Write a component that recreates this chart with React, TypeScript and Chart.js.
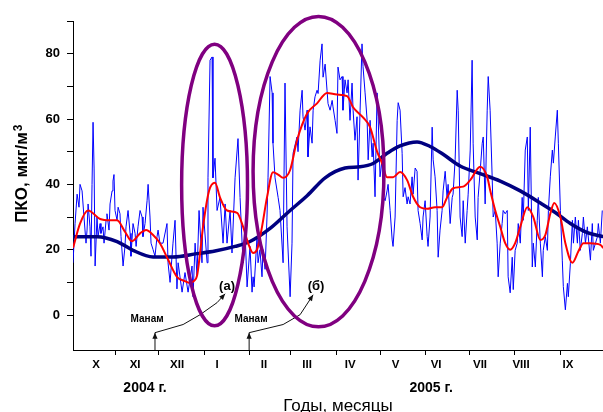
import React, { useEffect, useRef } from "react";
import { Chart, registerables } from "chart.js";

Chart.register(...registerables);

const FONT = '"Liberation Sans", Arial, Helvetica, sans-serif';

// Days are counted from 1 October 2004.
const monthStartDays = [31, 61, 92, 123, 151, 182, 212, 243, 273, 304, 335];
const monthNames = ["X", "XI", "XII", "I", "II", "III", "IV", "V", "VI", "VII", "VIII", "IX"];
const monthNameDays = [18, 44.7, 73.4, 100.7, 132.8, 162.2, 191.6, 222.7, 250.3, 280.3, 308.3, 340.4];
const yearNames = ["2004 г.", "2005 г."];
const yearNameDays = [51.5, 246.9];
const valueTicks = [0, 10, 20, 30, 40, 50, 60, 70, 80, 90];

const xTitle = "Годы, месяцы";
const yTitle = "ПКО, мкг/м";
const yTitleUnitPower = "3";

// Daily aerosol concentration, [day, µg/m³]
const pkoDaily: [number, number][] = [
  [2.3, 16], [3.7, 28], [5.1, 37], [6.4, 33], [7.1, 40], [8.5, 38], [9.8, 30], [11.2, 22], [11.9, 26], [12.6, 34],
  [13.9, 27], [14.6, 18], [15.3, 40], [16.0, 59], [16.7, 45], [17.4, 15], [18.7, 30], [19.4, 24], [20.8, 28], [21.4, 25],
  [22.8, 27], [23.5, 22], [24.9, 29], [25.5, 31], [26.9, 26], [27.6, 34], [29.0, 38], [29.6, 41], [30.3, 43], [31.0, 32],
  [32.4, 29], [33.1, 33], [34.4, 31], [35.1, 24], [36.5, 15], [37.8, 21], [38.5, 27], [39.9, 32], [41.3, 25], [41.9, 18],
  [43.3, 28], [44.7, 25], [45.4, 21], [46.7, 27], [48.1, 32], [49.5, 30], [50.1, 24], [51.5, 28], [52.9, 35], [53.6, 40],
  [54.9, 30], [55.6, 22], [57.0, 20], [58.3, 18], [59.7, 24], [60.4, 26], [61.7, 22],
  [63.8, 22], [66.5, 28], [67.2, 16], [68.6, 10], [70.6, 22], [72.0, 29], [73.3, 8], [74.1, 16], [76.8, 7], [78.8, 13],
  [80.9, 7], [83.6, 15], [84.3, 5.6], [85.7, 22], [87.0, 12], [88.4, 32], [90.4, 16], [91.1, 33], [93.9, 16], [94.5, 42],
  [95.9, 78], [97.3, 79], [97.9, 42], [99.3, 48], [100.7, 32], [102.7, 36], [104.8, 22], [106.2, 34], [107.5, 22], [109.6, 32],
  [110.9, 19], [113.0, 42], [115.0, 54], [116.4, 36], [117.8, 22], [118.5, 16], [119.8, 26], [121.2, 8.6], [123.2, 21], [124.6, 7],
  [125.3, 11.7], [126.0, 8.6],
  [128.0, 24], [128.7, 16], [130.0, 20], [131.4, 11.7], [132.1, 20], [133.5, 14], [134.8, 30], [135.5, 42], [136.9, 73], [138.3, 68],
  [138.9, 52.6], [140.3, 42], [142.4, 36], [143.7, 32], [145.8, 16], [147.1, 71], [148.5, 27], [150.6, 5.6], [151.9, 22], [152.6, 49.5],
  [155.3, 54.5], [156.0, 50], [157.4, 62.7], [158.8, 68.8], [159.4, 60.7], [160.8, 56.6], [162.2, 62.7], [162.8, 48.4], [164.2, 57.6], [165.6, 52.6],
  [166.3, 62.7], [167.6, 66.8], [169.0, 68.8], [169.7, 67.8], [171.1, 78], [172.4, 83], [173.1, 72.8], [174.5, 76.8], [175.8, 68.8], [176.5, 64.7],
  [177.9, 62.7], [179.3, 65.7], [179.9, 63.7], [181.3, 59.6], [182.6, 55.6], [183.3, 75.9], [184.7, 72], [186.1, 73], [186.7, 62.7], [188.1, 72],
  [189.5, 68], [190.2, 72], [191.5, 59.6], [192.9, 71], [193.6, 62.7], [194.9, 53.5], [196.3, 60.7], [197.0, 41.3], [198.4, 62.7], [199.7, 83],
  [200.4, 76], [201.8, 68], [203.2, 59.6], [203.9, 47.5], [205.2, 59.6], [206.6, 48.4], [207.3, 52.6], [208.6, 36.2], [210.0, 68], [210.7, 60.7],
  [212.0, 42.3], [213.4, 47.5], [214.1, 36.2], [215.5, 35], [216.8, 38], [217.5, 40], [218.9, 32], [220.3, 23], [220.9, 21], [222.3, 30],
  [223.7, 59.6], [224.4, 65], [225.7, 62.7], [227.1, 49.5], [227.8, 36.2], [229.1, 39], [230.5, 34], [231.2, 36.2], [232.5, 34], [233.9, 42.3],
  [234.6, 37], [236.0, 45], [237.3, 44], [238.0, 32], [239.4, 28], [240.8, 23], [241.4, 30], [242.8, 35], [244.2, 24], [244.8, 21],
  [246.2, 30], [247.6, 57.5], [248.3, 47.5], [249.6, 42.3], [251.0, 32], [251.7, 17.7], [253.0, 26], [254.4, 32], [255.1, 38], [256.5, 44],
  [257.8, 36], [258.5, 40], [259.9, 28], [261.3, 36], [261.9, 37], [263.3, 47.5], [264.7, 68.8], [265.4, 62.7], [266.7, 30], [268.1, 24],
  [268.8, 35], [270.2, 22], [271.5, 32], [272.2, 37], [273.6, 50.5], [274.9, 78], [275.6, 52.6], [277.0, 30], [278.4, 23], [279.0, 36],
  [280.4, 44], [281.8, 52.6], [282.5, 54.5], [283.8, 34], [285.2, 62.7], [285.9, 73], [287.2, 62.7], [288.6, 42.3], [289.3, 30], [290.7, 32],
  [292.0, 22], [292.7, 11.7], [294.1, 22], [295.4, 28], [296.1, 32], [297.5, 31], [298.9, 32], [299.5, 11.7], [300.9, 6.8], [302.3, 17.7],
  [303.0, 7.8], [304.3, 19.8], [305.7, 22], [306.4, 28], [307.8, 22], [309.1, 36], [309.8, 29], [311.2, 50.5], [312.6, 54.5], [313.3, 32],
  [314.6, 57.5], [316.0, 14.7], [316.7, 22], [318.1, 14.7], [319.4, 29], [320.1, 36], [321.5, 22], [322.9, 11.7], [323.5, 19.8], [324.9, 24],
  [326.3, 19.8], [327.0, 32], [328.3, 42.3], [329.7, 50.5], [330.4, 46.5], [331.7, 54.5], [333.1, 62.7], [333.8, 52.6], [335.2, 32], [336.5, 16.8],
  [337.2, 8.7], [338.6, 1.6], [340.0, 9.7], [340.6, 5.6], [342.0, 15.7], [343.4, 29], [344.1, 22], [345.4, 30], [346.8, 22], [347.5, 29],
  [348.8, 19.8], [350.2, 25], [350.9, 30], [352.3, 22], [353.6, 27], [355.7, 16.8], [357.0, 28], [357.7, 19.8], [360.5, 24], [361.1, 28],
  [362.5, 22], [363.8, 32],
];

// Short-period running mean, [day, µg/m³]
const pkoMeanShort: [number, number][] = [
  [2.3, 20.5], [7.1, 28], [12.6, 32], [20.8, 29.4], [27.6, 29], [32.4, 29], [37.8, 25.5], [42.6, 22.6], [48.1, 25], [52.2, 26],
  [57.0, 24.5], [61.7, 22], [67.2, 17], [73.3, 11.7], [78.1, 10.5], [82.2, 9.8], [85.0, 10.5], [87.0, 12], [89.1, 19], [91.1, 27],
  [95.2, 38], [99.3, 40.5], [102.7, 36], [107.5, 32], [114.4, 31.3], [118.5, 27], [121.9, 22], [125.3, 19], [128.0, 20], [131.4, 27],
  [134.8, 36], [138.9, 43.7], [142.4, 43], [145.8, 42], [150.6, 44.4], [155.3, 53.5], [162.2, 61.7], [169.0, 64.8], [175.8, 68], [182.6, 67.5],
  [189.5, 67], [193.6, 63.6], [200.4, 60.5], [205.2, 57.5], [210.0, 50], [213.4, 46.5], [216.8, 42.2], [220.9, 42.2], [225.7, 43.8], [230.5, 41.3],
  [234.6, 36.2], [239.4, 33], [244.2, 32.5], [249.6, 33], [254.4, 33], [257.8, 36], [261.9, 38.8], [268.8, 39.3], [273.6, 41.3], [280.4, 45.4],
  [285.2, 42.3], [287.2, 38.3], [290.7, 32], [294.1, 27], [297.5, 22], [300.9, 20], [304.3, 22], [307.8, 27], [312.6, 33], [316.7, 30],
  [321.5, 23], [324.9, 24.5], [328.3, 31], [331.0, 34.3], [335.2, 30], [338.6, 22], [343.4, 16], [347.5, 19.5], [350.9, 22], [355.7, 22],
  [362.5, 21.5], [364.5, 20.5],
];

// Long-period running mean, [day, µg/m³]
const pkoMeanLong: [number, number][] = [
  [2.3, 24], [18.7, 24], [32.4, 22.5], [43.3, 19.8], [57.0, 17.8], [70.6, 17.8], [87.0, 18.8], [99.3, 19.6], [113.0, 21], [123.2, 22.5],
  [136.9, 26.5], [150.6, 32], [162.2, 36.5], [174.5, 42], [188.1, 45], [198.4, 45.4], [207.3, 46.4], [216.8, 49.5], [225.7, 51.8], [237.3, 53],
  [246.2, 51.6], [255.1, 49.2], [266.7, 45.6], [280.4, 43.3], [294.1, 41], [307.8, 38], [321.5, 34.3], [331.7, 31.4], [342.0, 28], [353.6, 25.2],
  [364.5, 24],
];

// Highlighted episodes (a) and (б): centre and half-extent in data units
const episodes = [
  { day: 99.0, value: 39.8, halfDays: 22.5, halfValue: 43.1 },
  { day: 170.0, value: 43.9, halfDays: 44.7, halfValue: 47.5 },
];

// Manam eruption markers and their leaders to the episode labels
const eruptions = [
  { day: 58.3, leader: [[58.3, -5.4], [77.5, -2.9], [89.1, 0.1], [100.7, 3.8], [106.2, 6.5]] },
  { day: 122.6, leader: [[122.6, -5.4], [145.8, -2.9], [157.4, 0.1], [166.3, 6.2]] },
];

const notes = [
  { text: "(а)", day: 107.5, value: 8.9, size: 13 },
  { text: "(б)", day: 168.3, value: 8.9, size: 13 },
  { text: "Манам", day: 52.9, value: -1.4, size: 10 },
  { text: "Манам", day: 123.9, value: -1.4, size: 10 },
];

const toPoints = (rows: [number, number][]) => rows.map(([x, y]) => ({ x, y }));

function arrowHead(ctx: CanvasRenderingContext2D, fx: number, fy: number, tx: number, ty: number) {
  const a = Math.atan2(ty - fy, tx - fx);
  const len = 6;
  const w = 2.6;
  ctx.beginPath();
  ctx.moveTo(tx, ty);
  ctx.lineTo(tx - len * Math.cos(a) + w * Math.sin(a), ty - len * Math.sin(a) - w * Math.cos(a));
  ctx.lineTo(tx - len * Math.cos(a) - w * Math.sin(a), ty - len * Math.sin(a) + w * Math.cos(a));
  ctx.closePath();
  ctx.fill();
}

const overlayPlugin = {
  id: "episodeOverlay",
  afterDraw(chart: any) {
    const { ctx, scales, chartArea } = chart;
    const xs = scales.x;
    const ys = scales.y;
    const px = (d: number) => xs.getPixelForValue(d);
    const py = (v: number) => ys.getPixelForValue(v);
    ctx.save();

    // eruption arrows
    ctx.strokeStyle = "#111";
    ctx.fillStyle = "#111";
    ctx.lineWidth = 1;
    for (const e of eruptions) {
      const x0 = px(e.day);
      const base = ys.bottom;
      const top = py(e.leader[0][1]);
      ctx.beginPath();
      ctx.moveTo(x0, base);
      ctx.lineTo(x0, top);
      ctx.stroke();
      arrowHead(ctx, x0, base, x0, top);
      ctx.beginPath();
      e.leader.forEach(([d, v], i) => (i ? ctx.lineTo(px(d), py(v)) : ctx.moveTo(px(d), py(v))));
      ctx.stroke();
      const n = e.leader.length;
      arrowHead(ctx, px(e.leader[n - 2][0]), py(e.leader[n - 2][1]), px(e.leader[n - 1][0]), py(e.leader[n - 1][1]));
    }

    // episode outlines
    ctx.strokeStyle = "#800080";
    ctx.lineWidth = 3.5;
    for (const el of episodes) {
      const cx = px(el.day);
      const cy = py(el.value);
      const rx = Math.abs(px(el.day + el.halfDays) - cx);
      const ry = Math.abs(py(el.value + el.halfValue) - cy);
      ctx.beginPath();
      ctx.ellipse(cx, cy, rx, ry, 0, 0, Math.PI * 2);
      ctx.stroke();
    }

    // labels
    ctx.fillStyle = "#000";
    ctx.textAlign = "center";
    ctx.textBaseline = "middle";
    for (const n of notes) {
      ctx.font = `bold ${n.size}px ${FONT}`;
      ctx.fillText(n.text, px(n.day), py(n.value));
    }

    // axis titles
    ctx.textAlign = "center";
    ctx.textBaseline = "alphabetic";
    ctx.font = `17px ${FONT}`;
    ctx.fillText(xTitle, (chartArea.left + chartArea.right) / 2, chart.height - 1);

    ctx.font = `bold 17px ${FONT}`;
    const w = ctx.measureText(yTitle).width;
    ctx.translate(ys.left + 27, (chartArea.top + chartArea.bottom) / 2 + w / 2 - 8);
    ctx.rotate(-Math.PI / 2);
    ctx.textAlign = "left";
    ctx.fillText(yTitle, 0, 0);
    ctx.font = `bold 12px ${FONT}`;
    ctx.fillText(yTitleUnitPower, w + 1, -5);

    ctx.restore();
  },
};

export default function App() {
  const canvasRef = useRef<HTMLCanvasElement>(null);

  useEffect(() => {
    document.body.style.margin = "0";
    const canvas = canvasRef.current;
    if (!canvas) return;

    const xMin = 2.3;
    const xMax = 364.3;

    const chart = new Chart(canvas, {
      type: "line",
      data: {
        datasets: [
          {
            data: toPoints(pkoMeanShort),
            borderColor: "#ff0000",
            borderWidth: 2,
            pointRadius: 0,
            cubicInterpolationMode: "monotone",
            order: 0,
          },
          {
            data: toPoints(pkoMeanLong),
            borderColor: "#000080",
            borderWidth: 3.5,
            pointRadius: 0,
            cubicInterpolationMode: "monotone",
            order: 1,
          },
          {
            data: toPoints(pkoDaily),
            borderColor: "#0000ff",
            borderWidth: 1,
            pointRadius: 0,
            tension: 0,
            order: 2,
          },
        ],
      },
      options: {
        responsive: false,
        animation: false,
        events: [],
        layout: { padding: { top: 21, right: 0, bottom: 0, left: 0 } },
        plugins: { legend: { display: false }, tooltip: { enabled: false } },
        scales: {
          x: {
            type: "linear",
            position: "bottom",
            min: xMin,
            max: xMax,
            weight: 0,
            afterBuildTicks: (s: any) => {
              s.ticks = monthStartDays.map((value) => ({ value }));
            },
            ticks: { display: false },
            grid: { drawOnChartArea: false, drawTicks: true, tickLength: 5, color: "#000" },
            border: { color: "#000", width: 1 },
            afterFit: (s: any) => {
              s.height = 5;
            },
          },
          xm: {
            type: "linear",
            position: "bottom",
            min: xMin,
            max: xMax,
            weight: 1,
            afterBuildTicks: (s: any) => {
              s.ticks = monthNameDays.map((value) => ({ value }));
            },
            ticks: {
              autoSkip: false,
              maxRotation: 0,
              padding: 3,
              color: "#000",
              font: { family: FONT, size: 11.5, weight: "bold" },
              callback: (_v: any, i: number) => monthNames[i],
            },
            grid: { display: false, drawTicks: false },
            border: { display: false },
            afterFit: (s: any) => {
              s.height = 20;
            },
          },
          xy: {
            type: "linear",
            position: "bottom",
            min: xMin,
            max: xMax,
            weight: 2,
            afterBuildTicks: (s: any) => {
              s.ticks = yearNameDays.map((value) => ({ value }));
            },
            ticks: {
              autoSkip: false,
              maxRotation: 0,
              padding: 5,
              color: "#000",
              font: { family: FONT, size: 14, weight: "bold" },
              callback: (_v: any, i: number) => yearNames[i],
            },
            grid: { display: false, drawTicks: false },
            border: { display: false },
            afterFit: (s: any) => {
              s.height = 37;
            },
          },
          y: {
            type: "linear",
            min: -10.7,
            max: 90,
            afterBuildTicks: (s: any) => {
              s.ticks = valueTicks.map((value) => ({ value }));
            },
            ticks: {
              autoSkip: false,
              padding: 7,
              color: "#000",
              font: { family: FONT, size: 13, weight: "bold" },
              callback: (v: any) => (Number(v) % 20 === 0 ? String(v) : ""),
            },
            grid: { drawOnChartArea: false, drawTicks: true, tickLength: 6, color: "#000" },
            border: { color: "#000", width: 1 },
            afterFit: (s: any) => {
              s.width = 73;
            },
          },
        },
      } as any,
      plugins: [overlayPlugin],
    });

    return () => chart.destroy();
  }, []);

  return (
    <div style={{ position: "relative", width: 603, height: 412, background: "#fff" }}>
      <canvas ref={canvasRef} width={603} height={412} />
    </div>
  );
}
